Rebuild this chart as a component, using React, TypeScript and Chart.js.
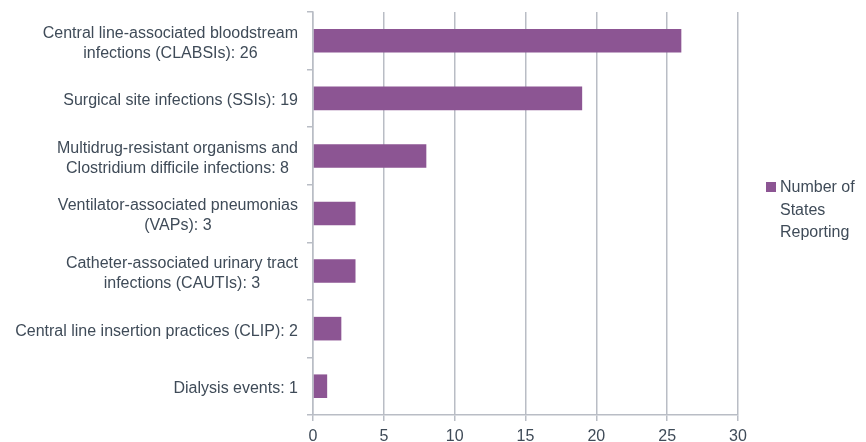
import React, { useEffect, useRef } from "react";
import { Chart, registerables } from "chart.js";

Chart.register(...registerables);

const categories: string[][] = [
  ["Central line-associated bloodstream", "infections (CLABSIs): 26"],
  ["Surgical site infections (SSIs): 19"],
  ["Multidrug-resistant organisms and", "Clostridium difficile infections: 8"],
  ["Ventilator-associated pneumonias", "(VAPs): 3"],
  ["Catheter-associated urinary tract", "infections (CAUTIs): 3"],
  ["Central line insertion practices (CLIP): 2"],
  ["Dialysis events: 1"],
];
const statesReporting = [26, 19, 8, 3, 3, 2, 1];
const seriesLabel = ["Number of", "States", "Reporting"];
const xTicks = [0, 5, 10, 15, 20, 25, 30];

const TEXT = "#3f4b58";
const BAR = "#8c5593";
const GRID = "#b9bdc5";
const FONT = "'Liberation Sans', Arial, sans-serif";

const labelsPlugin = {
  id: "customLabels",
  afterDraw(chart: any) {
    const ctx = chart.ctx;
    const yScale = chart.scales.y;
    ctx.save();
    ctx.font = `16px ${FONT}`;
    ctx.fillStyle = TEXT;
    ctx.textBaseline = "middle";
    ctx.textAlign = "center";
    const right = yScale.right - 15;
    const lh = 20;
    categories.forEach((lines, i) => {
      const cy = yScale.getPixelForValue(i) + 2.5;
      const w = Math.max(...lines.map((l) => ctx.measureText(l).width));
      const cx = right - w / 2;
      lines.forEach((l, j) => {
        ctx.fillText(l, cx, cy + (j - (lines.length - 1) / 2) * lh);
      });
    });
    // legend
    const x = 766;
    const y0 = 188;
    ctx.fillStyle = BAR;
    ctx.fillRect(x, y0 - 6, 10, 10);
    ctx.fillStyle = TEXT;
    ctx.textAlign = "left";
    seriesLabel.forEach((t, i) => ctx.fillText(t, x + 14, y0 + i * 22.5));
    ctx.restore();
  },
};

export default function App() {
  const ref = useRef<HTMLCanvasElement>(null);
  useEffect(() => {
    document.body.style.margin = "0";
    const chart = new Chart(ref.current!, {
      type: "bar",
      data: {
        labels: categories.map((c) => c.join(" ")),
        datasets: [
          {
            label: seriesLabel.join(" "),
            data: statesReporting,
            backgroundColor: BAR,
            borderWidth: 0,
            categoryPercentage: 1,
            barPercentage: 0.41,
          },
        ],
      },
      options: {
        indexAxis: "y",
        responsive: false,
        animation: false,
        layout: { padding: { top: 12, right: 128, bottom: 0, left: 0 } },
        plugins: { legend: { display: false }, tooltip: { enabled: false } },
        scales: {
          x: {
            min: 0,
            max: 30,
            afterBuildTicks: (s: any) => {
              s.ticks = xTicks.map((v) => ({ value: v }));
            },
            afterFit: (s: any) => {
              s.height = 27;
            },
            grid: {
              color: GRID,
              lineWidth: 1.5,
              tickLength: 6,
              drawTicks: true,
            },
            border: { color: GRID, width: 1.5 },
            ticks: { color: TEXT, font: { size: 16, family: FONT }, padding: 6 },
          },
          y: {
            afterFit: (s: any) => {
              s.width = 313;
            },
            grid: {
              drawOnChartArea: false,
              color: GRID,
              lineWidth: 1.5,
              tickLength: 6,
              offset: true,
            },
            border: { color: GRID, width: 1.5 },
            ticks: {
              display: false,
              autoSkip: false,
            },
          },
        },
      },
      plugins: [labelsPlugin],
    });
    return () => chart.destroy();
  }, []);
  return <canvas ref={ref} width={866} height={442} style={{ display: "block" }} />;
}
